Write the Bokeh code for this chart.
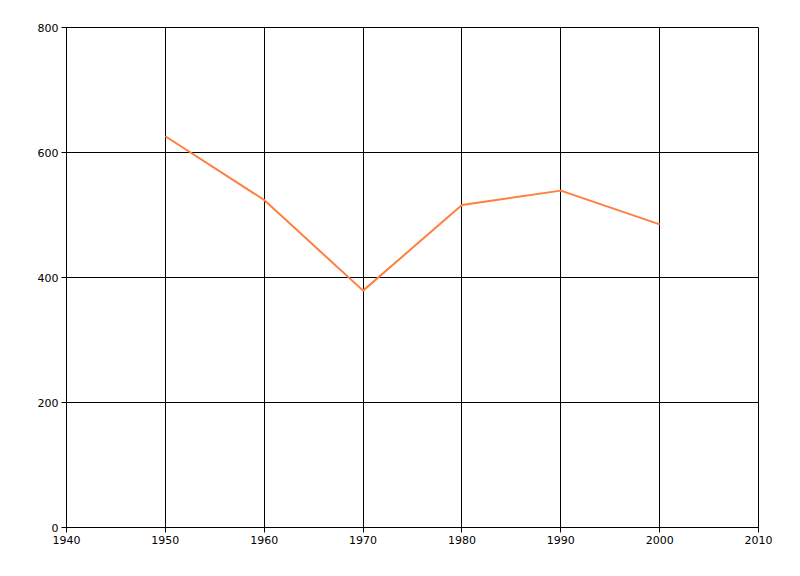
from bokeh.plotting import figure
from bokeh.models import Range1d, FixedTicker, ColumnDataSource
from bokeh.embed import file_html
from bokeh.resources import INLINE

years = [1950, 1960, 1970, 1980, 1990, 2000]
values = [626, 524, 379, 516, 539, 485]
x_ticks = [1940, 1950, 1960, 1970, 1980, 1990, 2000, 2010]
y_ticks = [0, 200, 400, 600, 800]

src = ColumnDataSource(dict(x=years, y=values))

p = figure(width=784, height=560, output_backend="svg", toolbar_location=None,
           x_range=Range1d(1940, 2010), y_range=Range1d(0, 800),
           frame_width=692, frame_height=500,
           min_border_left=66, min_border_top=27, min_border_right=26, min_border_bottom=33)

p.line("x", "y", source=src, line_color="#FF7F3F", line_width=2)

for ax, ticks in ((p.xaxis[0], x_ticks), (p.yaxis[0], y_ticks)):
    ax.ticker = FixedTicker(ticks=ticks)
    ax.axis_line_color = "black"
    ax.major_tick_line_color = "black"
    ax.major_tick_out = 5
    ax.major_tick_in = 0
    ax.minor_tick_line_color = None
    ax.major_label_text_font = "DejaVu Sans"
    ax.major_label_text_font_size = "11px"
    ax.major_label_text_color = "black"
    ax.major_label_standoff = 3

p.xgrid.ticker = FixedTicker(ticks=x_ticks)
p.ygrid.ticker = FixedTicker(ticks=y_ticks)
p.grid.grid_line_color = "black"
p.grid.grid_line_alpha = 1.0
p.grid.grid_line_width = 1
p.outline_line_color = "black"
p.outline_line_alpha = 1.0

open("out.html", "w").write(file_html(p, INLINE))
